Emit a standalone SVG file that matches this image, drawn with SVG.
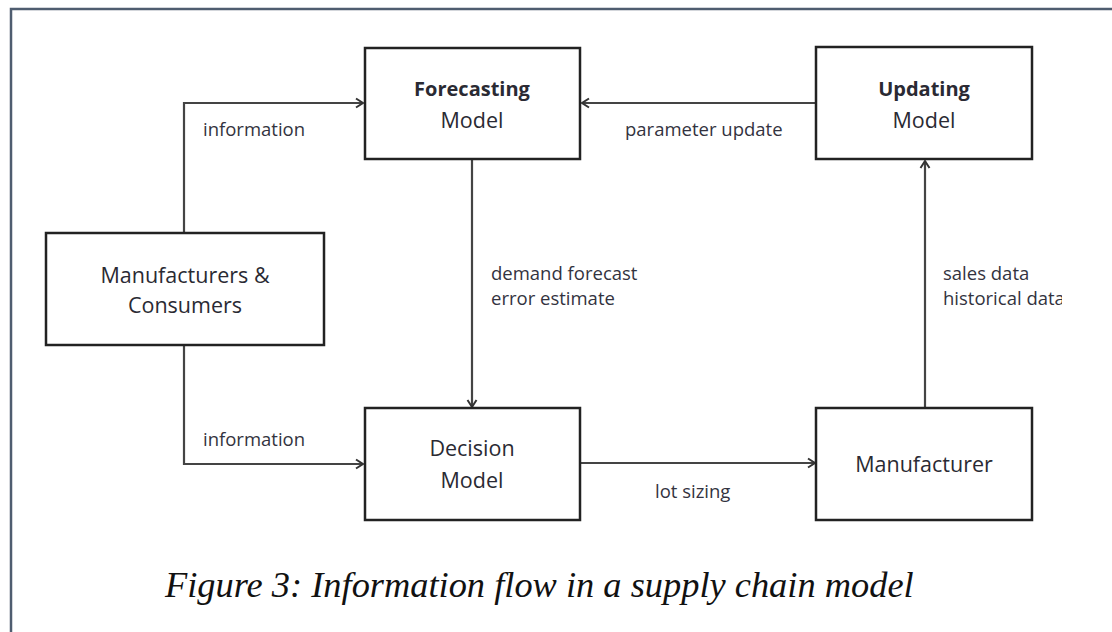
<svg xmlns="http://www.w3.org/2000/svg" width="1112" height="632" viewBox="0 0 1112 632">
<style>
.box{fill:#fff;stroke:#222;stroke-width:2.5}
.t{font-family:"Open Sans","Liberation Sans",sans-serif;font-size:21.5px;fill:#2a2a33;text-anchor:middle}
.b{font-weight:bold;font-size:20px}
.l{font-family:"Open Sans","Liberation Sans",sans-serif;font-size:18.5px;fill:#333340}
.c{stroke:#444;stroke-width:2.2;fill:none}
.cap{font-family:"Liberation Serif",serif;font-style:italic;font-size:36.4px;fill:#111}
</style>
<defs>
<marker id="arr" markerWidth="12" markerHeight="12" refX="9" refY="6" orient="auto" markerUnits="userSpaceOnUse">
<path d="M2,1.5 L9,6 L2,10.5" fill="none" stroke="#333" stroke-width="2"/>
</marker>
<clipPath id="clipR"><rect x="0" y="0" width="1062" height="632"/></clipPath>
</defs>
<rect width="1112" height="632" fill="#fff"/>
<path d="M11,632 L11,9 L1112,9" fill="none" stroke="#4f5d70" stroke-width="2.5"/>
<g id="connectors">
<path class="c" d="M184,233 L184,103 L363,103" marker-end="url(#arr)"/>
<path class="c" d="M184,345 L184,464 L363,464" marker-end="url(#arr)"/>
<path class="c" d="M816,103 L582,103" marker-end="url(#arr)"/>
<path class="c" d="M472,160 L472,407" marker-end="url(#arr)"/>
<path class="c" d="M580,463 L815,463" marker-end="url(#arr)"/>
<path class="c" d="M925,408 L925,161" marker-end="url(#arr)"/>
<text class="l" x="203" y="136">information</text>
<text class="l" x="203" y="446">information</text>
<text class="l" x="625" y="136">parameter update</text>
<text class="l" x="491" y="280">demand forecast</text>
<text class="l" x="491" y="305">error estimate</text>
<text class="l" x="943" y="280">sales data</text>
<text class="l" x="943" y="305" clip-path="url(#clipR)">historical data</text>
<text class="l" x="655" y="498">lot sizing</text>
</g>
<g id="forecasting">
<rect class="box" x="365" y="48" width="215" height="111"/>
<text class="t b" x="472" y="96">Forecasting</text>
<text class="t" x="472" y="128">Model</text>
</g>
<g id="updating">
<rect class="box" x="816" y="47" width="216" height="112"/>
<text class="t b" x="924" y="96">Updating</text>
<text class="t" x="924" y="128">Model</text>
</g>
<g id="mfgcons">
<rect class="box" x="46" y="233" width="278" height="112"/>
<text class="t" x="185" y="283">Manufacturers &amp;</text>
<text class="t" x="185" y="313">Consumers</text>
</g>
<g id="decision">
<rect class="box" x="365" y="408" width="215" height="112"/>
<text class="t" x="472" y="456">Decision</text>
<text class="t" x="472" y="488">Model</text>
</g>
<g id="manufacturer">
<rect class="box" x="816" y="408" width="216" height="112"/>
<text class="t" x="924" y="472">Manufacturer</text>
</g>
<text class="cap" x="165" y="597">Figure 3: Information flow in a supply chain model</text>
</svg>
